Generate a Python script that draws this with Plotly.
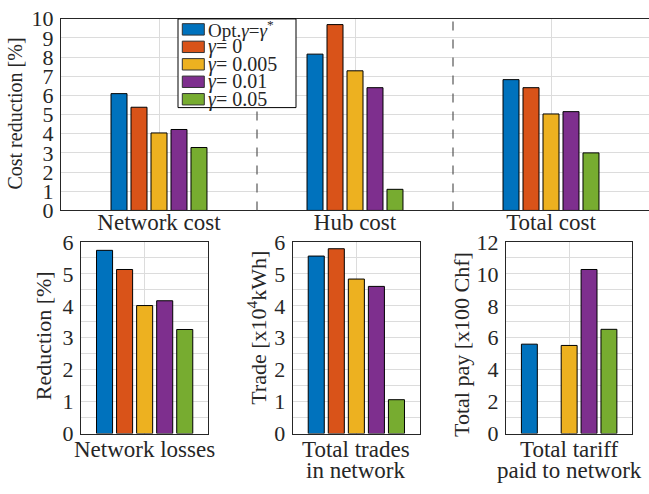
import plotly.graph_objects as go

# Series (legend order) and MATLAB-style colours
series_names = [
    "Opt.<i>γ</i>=<i>γ</i><sup>*</sup>",
    "<i>γ</i>= 0",
    "<i>γ</i>= 0.005",
    "<i>γ</i>= 0.01",
    "<i>γ</i>= 0.05",
]
colors = ["#0072BD", "#D95319", "#EDB120", "#7E2F8E", "#77AC30"]

# Top panel: cost reduction [%] per cost category, one list per series
cost_categories = ["Network cost", "Hub cost", "Total cost"]
opt_gamma = [6.09, 8.15, 6.82]
gamma_0 = [5.38, 9.69, 6.40]
gamma_0005 = [4.04, 7.28, 5.03]
gamma_001 = [4.22, 6.40, 5.15]
gamma_005 = [3.28, 1.10, 3.00]
cost_series = [opt_gamma, gamma_0, gamma_0005, gamma_001, gamma_005]

# Bottom panels: one value per series
losses_category = ["Network losses"]
network_losses = [5.74, 5.14, 4.01, 4.16, 3.26]
trades_category = ["Total trades in network"]
total_trades = [5.56, 5.79, 4.84, 4.61, 1.06]
tariff_category = ["Total tariff paid to network"]
tariff_paid = [5.60, 0.0, 5.52, 10.28, 6.53]

# category captions of the bottom panels, split into lines
losses_lines = ["Network losses"]
trades_lines = ["Total trades", "in network"]
tariff_lines = ["Total tariff", "paid to network"]

FONT = "Liberation Serif"
TXT = "#262626"
GRID = "#dcdcdc"
AXLINE = "#262626"

fig = go.Figure()

# bar geometry (data units per category)
top_w, top_pitch = 0.0816, 0.102
bot_w, bot_pitch = 0.126, 0.1575

def edge(v):
    # no outline on empty bars
    return 1 if v > 0 else 0

for i in range(5):
    fig.add_trace(go.Bar(
        x=cost_categories, y=cost_series[i], name=series_names[i],
        marker=dict(color=colors[i], line=dict(color="black", width=1)),
        width=top_w, offset=(i - 2) * top_pitch - top_w / 2,
        xaxis="x", yaxis="y", showlegend=False))
    for vals, cat, ax in [(network_losses, losses_category, "2"),
                          (total_trades, trades_category, "3"),
                          (tariff_paid, tariff_category, "4")]:
        fig.add_trace(go.Bar(
            x=cat, y=[vals[i]], name=series_names[i],
            marker=dict(color=colors[i],
                        line=dict(color="black", width=edge(vals[i]))),
            width=bot_w, offset=(i - 2) * bot_pitch - bot_w / 2,
            xaxis="x" + ax, yaxis="y" + ax, showlegend=False))

W, H = 649, 494
def px_x(p): return p / W
def px_y(p): return 1 - p / H

tickfont = dict(family=FONT, size=22, color=TXT)
catfont = dict(family=FONT, size=23, color=TXT)

xcommon = dict(type="category", showline=True, linecolor=AXLINE, linewidth=1,
               showgrid=True, gridcolor=GRID, gridwidth=1, ticks="",
               tickfont=catfont, zeroline=False, fixedrange=True)
ycommon = dict(showline=True, linecolor=AXLINE, linewidth=1, showgrid=True,
               gridcolor=GRID, gridwidth=1, ticks="", tickfont=tickfont,
               zeroline=False, fixedrange=True, ticklabelstandoff=2)

bot_dom_y = [px_y(444), px_y(242.3)]
bot_x_domains = [[px_x(81), px_x(208.3)], [px_x(292.7), px_x(420)],
                 [px_x(506), px_x(632.3)]]

fig.update_layout(
    width=W, height=H, margin=dict(l=0, r=0, t=0, b=0),
    paper_bgcolor="white", plot_bgcolor="white",
    font=dict(family=FONT, color=TXT),
    barmode="overlay",
    xaxis=dict(xcommon, domain=[px_x(61), 1.0], range=[-0.5, 2.5], mirror=True,
               ticklabelstandoff=-9, anchor="y"),
    yaxis=dict(ycommon, domain=[px_y(209), px_y(7)], range=[0, 10], dtick=1,
               anchor="x"),
    xaxis2=dict(xcommon, domain=bot_x_domains[0], range=[-0.5, 0.5],
                mirror=True, showticklabels=False, anchor="y2"),
    yaxis2=dict(ycommon, domain=bot_dom_y, range=[0, 6], dtick=1, mirror=True,
                minor=dict(dtick=0.5, showgrid=True, gridcolor=GRID),
                anchor="x2"),
    xaxis3=dict(xcommon, domain=bot_x_domains[1], range=[-0.5, 0.5],
                mirror=True, showticklabels=False, anchor="y3"),
    yaxis3=dict(ycommon, domain=bot_dom_y, range=[0, 6], dtick=1, mirror=True,
                minor=dict(dtick=0.5, showgrid=True, gridcolor=GRID),
                anchor="x3"),
    xaxis4=dict(xcommon, domain=bot_x_domains[2], range=[-0.5, 0.5],
                mirror=True, showticklabels=False, anchor="y4"),
    yaxis4=dict(ycommon, domain=bot_dom_y, range=[0, 12], dtick=2, mirror=True,
                minor=dict(dtick=1, showgrid=True, gridcolor=GRID),
                anchor="x4"),
)

# bottom-panel category captions, one annotation per line, below each axis
for ax, lines in [("x2", losses_lines), ("x3", trades_lines),
                  ("x4", tariff_lines)]:
    for k, line in enumerate(lines):
        fig.add_annotation(text=line, x=0, xref=ax, y=px_y(461 + 22 * k),
                           yref="paper", showarrow=False, xanchor="center",
                           yanchor="middle", font=catfont)

# dashed separators between cost categories
for xs in [0.5, 1.5]:
    fig.add_shape(type="line", xref="x", yref="y", x0=xs, x1=xs, y0=0, y1=10,
                  line=dict(color="#555555", width=1.2, dash="dash"))

# axis titles
titles = [
    ("Cost reduction [%]", 15, 107, 20),
    ("Reduction [%]", 43, 341.5, 22),
    ("Trade [x10<sup>4</sup>kWh]", 256.7, 333, 22),
    ("Total pay [x100 Chf]", 461.7, 350, 22),
]
for text, cx, cy, fs in titles:
    fig.add_annotation(text=text, x=px_x(cx), y=px_y(cy), xref="paper",
                       yref="paper", showarrow=False, textangle=-90,
                       font=dict(family=FONT, size=fs, color=TXT),
                       xanchor="center", yanchor="middle")

# legend box
lg_left, lg_right, lg_top, lg_bot = 178, 296, 7.3, 100.7
fig.add_shape(type="rect", xref="paper", yref="paper",
              x0=px_x(lg_left), x1=px_x(lg_right), y0=px_y(lg_bot), y1=px_y(lg_top),
              fillcolor="white", line=dict(color="black", width=1), layer="above")
for i in range(5):
    cy = 18.3 + 18.4 * i
    fig.add_shape(type="rect", xref="paper", yref="paper",
                  x0=px_x(182.3), x1=px_x(204.3), y0=px_y(cy + 6), y1=px_y(cy - 6),
                  fillcolor=colors[i], line=dict(color="#333333", width=1),
                  layer="above")
    fig.add_annotation(text=series_names[i], x=px_x(206), y=px_y(cy),
                       xref="paper", yref="paper", showarrow=False,
                       xanchor="left", yanchor="middle",
                       font=dict(family=FONT, size=19 if i == 0 else 20,
                                 color=TXT))

fig.write_html("out.html")
